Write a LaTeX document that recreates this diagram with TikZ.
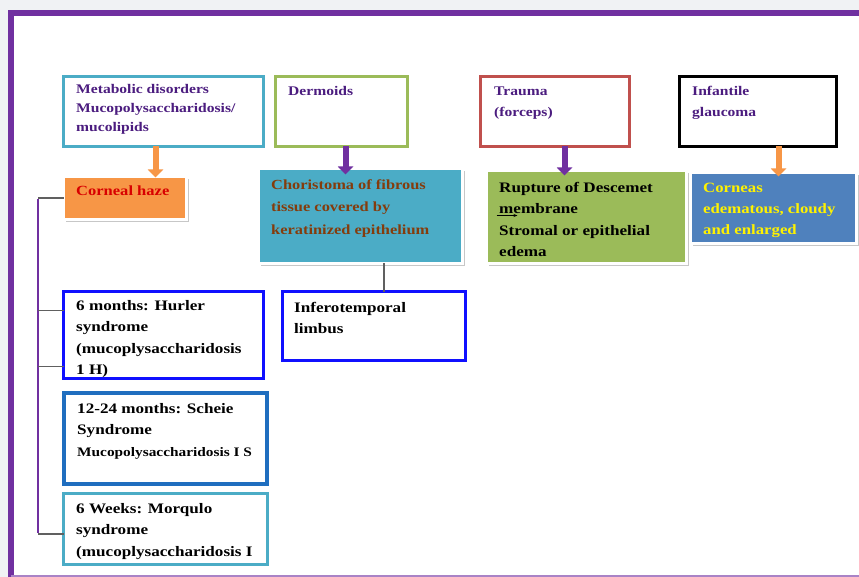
\documentclass[tikz,border=0pt]{standalone}
\usepackage{fontspec}
\newfontfamily\dfont[FakeStretch=1.18]{Liberation Serif}
\usetikzlibrary{arrows.meta,shadows}
\definecolor{purp}{HTML}{7030A0}
\definecolor{bgray}{HTML}{F0F2F4}
\definecolor{toptext}{HTML}{4B1C7F}
\definecolor{cteal}{HTML}{4BACC6}
\definecolor{cgreen}{HTML}{9BBB59}
\definecolor{cred}{HTML}{C0504D}
\definecolor{corange}{HTML}{F79646}
\definecolor{cblue}{HTML}{4F81BD}
\definecolor{pblue}{HTML}{1010FF}
\definecolor{mblue}{HTML}{1F6EBF}
\definecolor{brownt}{HTML}{843C0C}
\definecolor{hazered}{HTML}{D80000}
\definecolor{stubgray}{HTML}{606060}
\tikzset{
  obox/.style={draw, line width=3pt, fill=white, inner sep=0pt, outer sep=0pt},
  fbox/.style={draw=white, line width=3pt, inner sep=0pt, outer sep=0pt,
    drop shadow={shadow xshift=2pt, shadow yshift=-3pt, fill=black!22, opacity=1}},
  lbl/.style={inner sep=0pt, anchor=north west, align=left},
  mainf/.style={font=\dfont\bfseries\fontsize{14.5}{21.5}\selectfont},
  topf/.style={font=\dfont\bfseries\fontsize{13.2}{19}\selectfont, text=toptext},
  blockarrow/.style={line width=6pt, -{Triangle[width=15pt,length=8pt]}},
  stub/.style={draw=stubgray, line width=1.2pt},
}
\begin{document}
\begin{tikzpicture}[x=1pt,y=-1pt]
\useasboundingbox (0,0) rectangle (859,577);
\fill[bgray] (0,0) rectangle (859,577);
\fill[white] (11,13) rectangle (880,590);
\draw[purp, line width=6pt] (11,590) -- (11,13) -- (880,13);
\draw[purp!60, line width=2.5pt] (11,576.5) -- (880,576.5);

% top row boxes
\node[obox, draw=cteal, minimum width=200, minimum height=70] (meta) at (163.5,111.5) {};
\node[obox, draw=cgreen, minimum width=132, minimum height=70] (derm) at (341.5,111.5) {};
\node[obox, draw=cred, minimum width=149, minimum height=70] (trau) at (555,111.5) {};
\node[obox, draw=black, line width=3.5pt, minimum width=157, minimum height=70] (glau) at (758,111.5) {};

% filled boxes
\node[fbox, fill=corange, minimum width=123, minimum height=43] (haze) at (125,198) {};
\node[fbox, fill=cteal, minimum width=204, minimum height=95] (chor) at (360.5,216) {};
\node[fbox, fill=cgreen, minimum width=200, minimum height=93] (rupt) at (586.5,217) {};
\node[fbox, fill=cblue, minimum width=166, minimum height=71] (corn) at (773.5,208) {};

% lower boxes
\node[obox, draw=pblue, minimum width=183, minimum height=69] (infe) at (374,326) {};
\node[obox, draw=mblue, line width=4pt, minimum width=203, minimum height=91] (m12) at (165.5,438.5) {};
\node[obox, draw=cteal, minimum width=204, minimum height=71] (w6) at (165.5,528.5) {};

% texts
\node[lbl, topf] (metaT) at (76,80.5) {\strut Metabolic disorders\\Mucopolysaccharidosis/\\mucolipids};
\node[lbl, topf] (dermT) at (288,82.5) {\strut Dermoids};
\node[lbl, topf] (trauT) at (494,82.5) {\strut Trauma\\[2pt](forceps)};
\node[lbl, topf] (glauT) at (692,82.5) {\strut Infantile\\[2pt]glaucoma};
\node[lbl, font=\dfont\bfseries\fontsize{14}{21}\selectfont, text=hazered] (hazeT) at (76,180.3) {\strut Corneal haze};
\node[lbl, font=\dfont\bfseries\fontsize{13.9}{22.5}\selectfont, text=brownt] (chorT) at (271,173.2) {\strut Choristoma of fibrous\\tissue covered by\\keratinized epithelium};
\node[lbl, mainf] (ruptT) at (499,177) {\strut Rupture of Descemet\\membrane\\Stromal or epithelial\\edema};
\node[lbl, font=\dfont\bfseries\fontsize{14.2}{21}\selectfont, text=yellow] (cornT) at (703,177.3) {\strut Corneas\\edematous, cloudy\\and enlarged};
\node[lbl, mainf] (infeT) at (294,296.9) {\strut Inferotemporal\\limbus};
\node[lbl, mainf] (m6T) at (76,294.9) {\strut 6 months: Hurler\\syndrome\\(mucoplysaccharidosis\\1 H)};
\node[obox, fill=none, draw=pblue, minimum width=200, minimum height=87] (m6) at (163.5,335) {};
\fill[white] (60,382) rectangle (270,388.5);
\node[lbl, mainf] (m12T) at (77,397.9) {\strut 12-24 months: Scheie\\Syndrome\\{\fontsize{13}{20}\selectfont Mucopolysaccharidosis I S}};
\node[lbl, mainf] (w6T) at (76,497.9) {\strut 6 Weeks: Morqulo\\syndrome\\(mucoplysaccharidosis I};

% arrows
\draw[blockarrow, draw=corange, shorten >=-1pt] ([xshift=92]meta.south west) -- ([xshift=92]meta.south west |- haze.north);
\draw[blockarrow, draw=purp, shorten >=-6pt] ([xshift=70]derm.south west) -- ([xshift=70]derm.south west |- chor.north);
\draw[blockarrow, draw=purp, shorten >=-5pt] ([xshift=84]trau.south west) -- ([xshift=84]trau.south west |- rupt.north);
\draw[blockarrow, draw=corange, shorten >=-4pt] ([xshift=99]glau.south west) -- ([xshift=99]glau.south west |- corn.north);
\draw[-{Stealth[length=4pt]}, line width=0.8pt] ([xshift=10,yshift=-45]rupt.north west) -- ([xshift=31,yshift=-45]rupt.north west);

% connectors
\draw[stub] ([xshift=101.5]infe.north west |- chor.south) -- ([xshift=101.5]infe.north west);
\coordinate (bt) at (38,199);
\coordinate (bb) at (38,533);
\draw[purp, line width=1.4pt] (bt) -- (bb);
\draw[stub] (haze.west) -- (haze.west -| bt);
\draw[stub] ([yshift=-19]m6.north west) -- ([yshift=-19]m6.north west -| bt);
\draw[stub] ([yshift=-75]m6.north west) -- ([yshift=-75]m6.north west -| bt);
\draw[stub] ([yshift=-41]w6.north west) -- ([yshift=-41]w6.north west -| bt);
\end{tikzpicture}
\end{document}
